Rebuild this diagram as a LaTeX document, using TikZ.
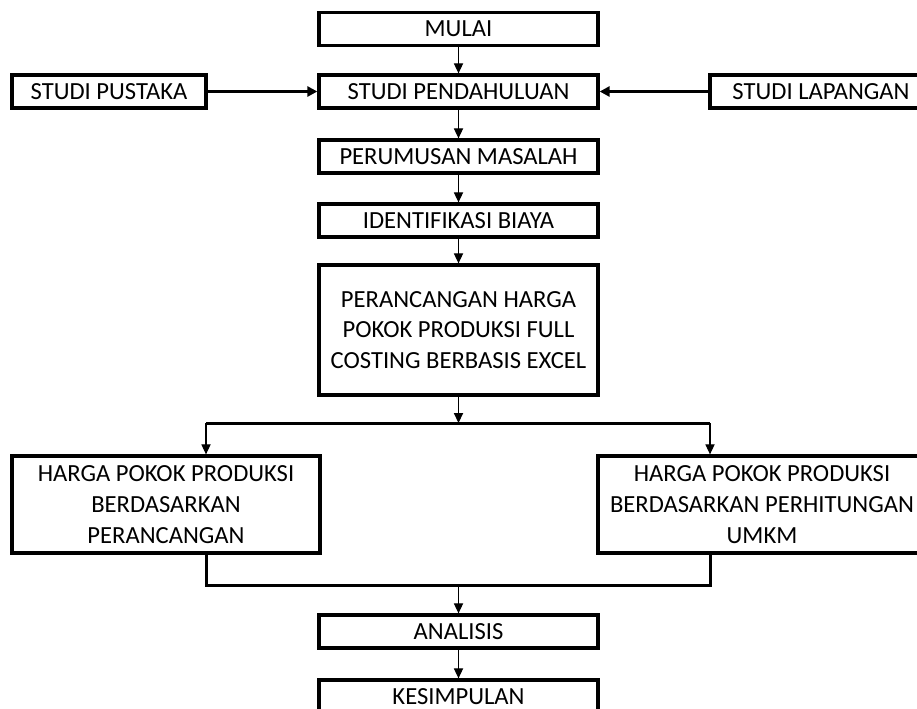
\documentclass[tikz,border=0pt]{standalone}
\usepackage{fontspec}
\setmainfont{Carlito}
\usepackage{tikz}
\usetikzlibrary{arrows.meta}

\tikzset{
  box/.style={draw, line width=1.65pt, rectangle, inner sep=0pt, align=center,
    minimum width=139.5pt, minimum height=16.5pt,
    font=\fontsize{12.3}{15.3}\selectfont},
  flow/.style={line width=0.55pt, -{Triangle[length=5pt,width=4.6pt]}},
  sideflow/.style={line width=1.3pt, -{Triangle[length=5pt,width=5pt]}},
  joint/.style={line width=1.5pt}
}

\begin{document}
\begin{tikzpicture}[x=0.5pt,y=-0.5pt]
    \useasboundingbox (0,0) rectangle (917,708);
    % Main column
    \node[box] (mulai) at (458.5,29) {MULAI};
    \node[box] (pendahuluan) at (458.5,91.5) {STUDI PENDAHULUAN};
    \node[box] (rumusan) at (458.5,156.5) {PERUMUSAN MASALAH};
    \node[box] (biaya) at (458.5,220.5) {IDENTIFIKASI BIAYA};
    \node[box, minimum height=65pt] (rancang) at (458.5,330)
        {PERANCANGAN HARGA\\POKOK PRODUKSI FULL\\COSTING BERBASIS EXCEL};
    % Side studies (right one runs off the page)
    \node[box, minimum width=97pt] (pustaka) at (109,91.5) {STUDI PUSTAKA};
    \node[box, minimum width=111pt] (lapangan) at (821,91.5) {STUDI LAPANGAN};
    % Two results
    \node[box, minimum width=154pt, minimum height=48.5pt] (hppranc) at (166,504.5)
        {HARGA POKOK PRODUKSI\\BERDASARKAN\\PERANCANGAN};
    \node[box, minimum width=164pt, minimum height=48.5pt] (hppumkm) at (762,504.5)
        {HARGA POKOK PRODUKSI\\BERDASARKAN PERHITUNGAN\\UMKM};
    % Closing steps
    \node[box] (analisis) at (458.5,631.5) {ANALISIS};
    \node[box] (simpul) at (458.5,696.5) {KESIMPULAN};
    % Split and join points
    \coordinate (split) at (458.5,423);
    \coordinate (splitL) at (206,423);
    \coordinate (splitR) at (710,423);
    \coordinate (join) at (458.5,585);
    \coordinate (joinL) at (206,585);
    \coordinate (joinR) at (710,585);
    % Arrows
    \draw[flow] (mulai) -- (pendahuluan);
    \draw[sideflow] (pustaka) -- (pendahuluan);
    \draw[sideflow] (lapangan) -- (pendahuluan);
    \draw[flow] (pendahuluan) -- (rumusan);
    \draw[flow] (rumusan) -- (biaya);
    \draw[flow] (biaya) -- (rancang);
    \draw[flow] (rancang) -- (split);
    \draw[joint] (splitL) -- (splitR);
    \draw[flow] (splitL) -- (splitL |- hppranc.north);
    \draw[flow] (splitR) -- (splitR |- hppumkm.north);
    \draw[joint] (joinL |- hppranc.south) -- (joinL) -- (joinR) -- (joinR |- hppumkm.south);
    \draw[flow] (join) -- (analisis);
    \draw[flow] (analisis) -- (simpul);
\end{tikzpicture}
\end{document}
